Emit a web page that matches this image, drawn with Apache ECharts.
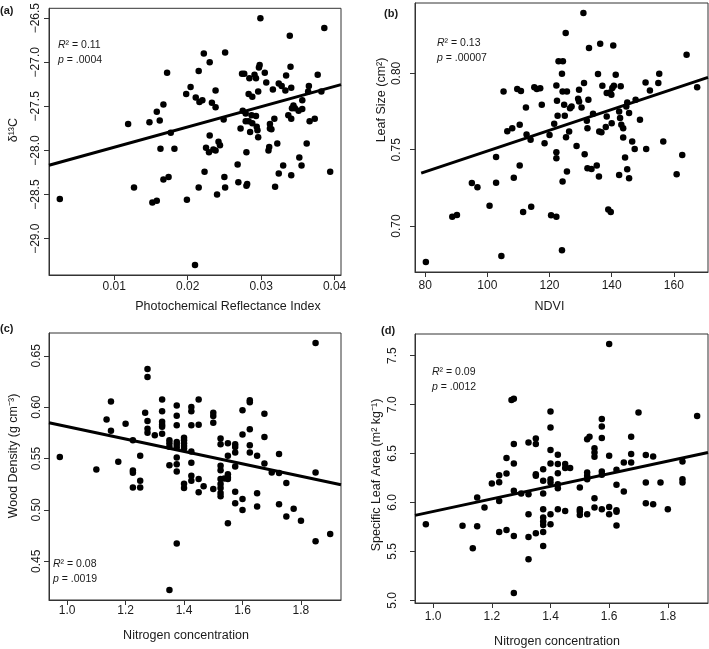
<!DOCTYPE html>
<html>
<head>
<meta charset="utf-8">
<script src="https://cdn.jsdelivr.net/npm/echarts@6/dist/echarts.min.js"></script>
<style>
html,body{margin:0;padding:0;background:#fff;}
#chart{width:709px;height:649px;}
</style>
</head>
<body>
<div id="chart"></div>
<script>
// ---------- Panel (a): PRI vs delta13C ----------
var praIndex = [0.0026,0.0119,0.0127,0.0148,0.0152,0.0158,0.0158,0.0162,0.0163,0.0167,
0.0167,0.0172,0.0174,0.0177,0.0182,0.0198,0.0199,0.0204,0.0211,0.0215,
0.0215,0.0216,0.0220,0.0222,0.0223,0.0225,0.0229,0.0230,0.0230,0.0233,
0.0235,0.0238,0.0238,0.0238,0.0240,0.0242,0.0244,0.0249,0.0250,0.0251,
0.0251,0.0268,0.0269,0.0272,0.0274,0.0275,0.0277,0.0279,0.0279,0.0280,
0.0280,0.0281,0.0283,0.0283,0.0284,0.0285,0.0287,0.0288,0.0288,0.0291,
0.0293,0.0293,0.0294,0.0295,0.0296,0.0296,0.0297,0.0298,0.0299,0.0305,
0.0307,0.0310,0.0311,0.0312,0.0312,0.0314,0.0316,0.0318,0.0319,0.0322,
0.0324,0.0324,0.0328,0.0330,0.0333,0.0334,0.0337,0.0339,0.0340,0.0341,
0.0341,0.0341,0.0342,0.0344,0.0346,0.0351,0.0352,0.0356,0.0356,0.0355,
0.0362,0.0365,0.0364,0.0366,0.0373,0.0377,0.0382,0.0386,0.0394,0.0210];
var d13C = [-28.55,-27.70,-28.42,-27.68,-28.59,-27.56,-28.57,-27.66,-27.98,-27.48,
-28.33,-27.12,-28.30,-27.80,-27.98,-27.36,-28.56,-27.28,-27.40,-27.10,
-28.42,-27.45,-27.43,-26.90,-28.24,-27.97,-28.02,-27.00,-27.83,-27.46,
-27.99,-27.32,-27.51,-28.00,-28.50,-27.90,-27.94,-27.65,-28.30,-28.42,
-26.89,-28.16,-28.36,-27.75,-27.13,-27.55,-27.13,-27.58,-27.67,-28.40,
-28.02,-28.38,-27.36,-27.67,-27.18,-27.79,-27.60,-27.39,-27.69,-27.14,
-27.18,-27.61,-27.73,-27.77,-27.33,-27.85,-27.06,-27.03,-26.50,-27.12,
-27.23,-28.00,-27.96,-27.75,-27.70,-27.76,-27.31,-27.64,-28.41,-27.92,
-28.26,-27.24,-27.27,-28.17,-27.32,-27.15,-27.60,-26.70,-27.05,-27.29,
-27.64,-28.28,-27.52,-27.49,-27.52,-27.55,-28.08,-27.53,-27.43,-28.17,
-27.92,-27.27,-27.33,-27.67,-27.64,-27.14,-27.33,-26.61,-28.24,-29.30];
var fitA = [-28.194, 23.0];          // intercept, slope
var xTicksA = [0.01, 0.02, 0.03, 0.04];
var yTicksA = [-29.0, -28.5, -28.0, -27.5, -27.0, -26.5];

// ---------- Panel (b): NDVI vs leaf size ----------
var ndvi = [80.2,88.7,90.2,95.0,96.8,100.7,102.8,102.8,104.5,105.2,
106.4,108.0,108.5,109.6,110.8,110.4,110.4,111.5,112.4,112.6,
113.9,114.1,115.1,115.9,117.0,117.5,118.4,120.0,120.5,122.2,
121.5,122.2,122.2,122.2,122.4,122.6,122.9,124.3,124.0,124.2,
124.0,124.2,125.6,124.7,124.9,125.2,125.3,125.6,126.6,127.1,
126.3,128.7,129.2,129.5,129.5,130.3,130.9,131.1,131.3,132.2,
132.0,132.2,133.5,132.7,132.5,134.0,135.2,135.6,135.9,136.0,
136.7,136.3,137.0,138.1,138.4,138.4,138.9,139.7,139.5,139.9,
140.2,140.0,140.5,140.7,141.3,142.4,142.7,142.4,142.9,143.1,
143.7,143.7,144.3,144.7,145.0,145.0,145.6,145.6,146.6,147.4,
147.7,149.1,150.9,151.1,152.3,155.0,155.3,156.6,160.9,162.7,
164.1,167.5];
var leafSize = [0.6764,0.7061,0.7072,0.7282,0.7254,0.7133,0.7453,0.7284,0.6803,0.7882,
0.7621,0.7641,0.7317,0.7897,0.7884,0.7663,0.7396,0.7092,0.7777,0.7600,
0.7565,0.7127,0.7910,0.7897,0.7902,0.7794,0.7543,0.7597,0.7070,0.7061,
0.7670,0.7921,0.7484,0.7444,0.7821,0.7722,0.8079,0.8079,0.7998,0.7291,
0.6842,0.7882,0.7882,0.7794,0.7722,0.8265,0.7582,0.7357,0.7772,0.7783,
0.7619,0.7525,0.7834,0.7893,0.7816,0.7777,0.8396,0.7937,0.7470,0.7641,
0.7689,0.7379,0.7374,0.8166,0.7827,0.7735,0.7396,0.7996,0.7324,0.7619,
0.7615,0.8195,0.7919,0.7648,0.7718,0.7871,0.7109,0.7092,0.7875,0.7860,
0.7904,0.7674,0.8182,0.7919,0.7991,0.7751,0.7707,0.7335,0.7915,0.7663,
0.7641,0.7580,0.7449,0.7783,0.7810,0.7372,0.7740,0.7313,0.7554,0.7505,
0.7827,0.7696,0.7941,0.7505,0.7888,0.7937,0.7998,0.7554,0.7339,0.7466,
0.8123,0.7910];
var fitB = [0.6811, 0.000680];
var fitStartB = 78.7;
var xTicksB = [80, 100, 120, 140, 160];
var yTicksB = [0.70, 0.75, 0.80];

// ---------- Panel (c): nitrogen vs wood density ----------
var nitrogenC = [0.975,1.100,1.135,1.150,1.150,1.175,1.200,1.225,1.225,1.225,
1.225,1.250,1.250,1.250,1.267,1.275,1.275,1.275,1.275,1.275,
1.300,1.325,1.325,1.325,1.325,1.325,1.325,1.350,1.350,1.350,
1.350,1.350,1.375,1.375,1.375,1.375,1.375,1.375,1.375,1.375,
1.375,1.375,1.400,1.400,1.400,1.400,1.400,1.400,1.400,1.425,
1.425,1.425,1.425,1.425,1.425,1.425,1.450,1.450,1.450,1.450,
1.467,1.500,1.500,1.500,1.500,1.525,1.525,1.525,1.525,1.525,
1.525,1.525,1.525,1.525,1.538,1.550,1.550,1.550,1.550,1.550,
1.550,1.575,1.575,1.575,1.575,1.575,1.575,1.600,1.600,1.600,
1.600,1.625,1.625,1.625,1.625,1.625,1.650,1.650,1.650,1.675,
1.675,1.675,1.700,1.725,1.725,1.725,1.750,1.750,1.775,1.800,
1.850,1.850,1.850,1.900];
var woodDensity = [0.5516,0.5394,0.5881,0.6055,0.5771,0.5468,0.5839,0.5677,0.5384,0.5361,
0.5219,0.5526,0.5284,0.5219,0.5945,0.6371,0.6294,0.5865,0.5790,0.5752,
0.5726,0.6074,0.5961,0.5858,0.5829,0.5810,0.5742,0.5677,0.5648,0.5616,
0.5435,0.4219,0.6016,0.5916,0.5823,0.5661,0.5635,0.5606,0.5510,0.5445,
0.5374,0.4674,0.5703,0.5677,0.5648,0.5623,0.5597,0.5255,0.5213,0.6003,
0.5961,0.5823,0.5568,0.5458,0.5332,0.5284,0.6074,0.5829,0.5300,0.5171,
0.5229,0.5945,0.5913,0.5848,0.5203,0.5694,0.5639,0.5429,0.5387,0.5300,
0.5252,0.5213,0.5165,0.5132,0.5306,0.5648,0.5526,0.5348,0.5316,0.5300,
0.4871,0.5639,0.5613,0.5558,0.5423,0.5177,0.5065,0.5735,0.5971,0.5106,
0.5000,0.6068,0.6048,0.5784,0.5629,0.5558,0.5526,0.5161,0.5032,0.5935,
0.5710,0.5452,0.5365,0.5545,0.5358,0.5055,0.5261,0.4935,0.5010,0.4894,
0.6626,0.5365,0.4694,0.4765];
var fitC = [0.6417, -0.06054];
var xTicksC = [1.0, 1.2, 1.4, 1.6, 1.8];
var yTicksC = [0.45, 0.50, 0.55, 0.60, 0.65];

// ---------- Panel (d): nitrogen vs specific leaf area ----------
var nitrogenD = [0.975,1.100,1.135,1.150,1.150,1.175,1.200,1.225,1.225,1.225,
1.225,1.250,1.250,1.250,1.267,1.275,1.275,1.275,1.275,1.275,
1.275,1.300,1.325,1.325,1.325,1.325,1.325,1.350,1.350,1.350,
1.350,1.350,1.375,1.375,1.375,1.375,1.375,1.375,1.375,1.375,
1.375,1.400,1.400,1.400,1.400,1.400,1.400,1.400,1.400,1.425,
1.425,1.425,1.425,1.425,1.425,1.450,1.450,1.450,1.467,1.500,
1.500,1.500,1.500,1.525,1.525,1.525,1.525,1.525,1.533,1.550,
1.550,1.550,1.550,1.550,1.575,1.575,1.575,1.575,1.575,1.575,
1.600,1.600,1.600,1.600,1.625,1.625,1.625,1.625,1.625,1.650,
1.650,1.675,1.675,1.675,1.700,1.725,1.725,1.725,1.750,1.750,
1.775,1.800,1.850,1.850,1.850,1.900];
var sla = [5.778,5.761,5.532,6.050,5.757,5.948,6.194,6.279,6.207,6.016,
5.699,6.453,6.296,5.720,7.046,7.060,6.596,6.398,6.119,5.658,
5.075,6.091,6.613,6.085,5.880,5.648,5.419,6.654,6.596,6.289,
6.272,5.686,6.340,6.221,6.091,5.931,5.846,5.805,5.771,5.699,
5.556,6.930,6.767,6.535,6.398,6.238,6.204,5.880,5.778,6.487,
6.392,6.299,6.187,6.146,5.931,6.392,6.351,5.914,6.351,6.153,
5.931,5.907,5.873,6.647,6.306,6.272,6.238,5.880,6.671,6.555,
6.511,6.467,6.044,5.948,6.852,6.777,6.658,6.316,6.282,5.931,
7.619,6.477,5.955,5.880,6.334,6.180,5.921,5.904,5.764,6.409,
6.112,6.671,6.494,6.409,6.920,6.484,6.204,5.992,6.470,5.982,
6.204,5.931,6.419,6.238,6.204,6.883];
var fitD = [5.2653, 0.6431];
var xTicksD = [1.0, 1.2, 1.4, 1.6, 1.8];
var yTicksD = [5.0, 5.5, 6.0, 6.5, 7.0, 7.5];

// ---------- helpers ----------
function zip(xs, ys) { return xs.map(function (x, i) { return [x, ys[i]]; }); }
function ext(v) { // R style: data range padded by 4%
  var mn = Math.min.apply(null, v), mx = Math.max.apply(null, v), p = (mx - mn) * 0.04;
  return [mn - p, mx + p];
}
function fmt(dec) { return function (v) { return v.toFixed(dec).replace('-', '\u2212'); }; }

var FONT = "'Liberation Sans', Arial, Helvetica, sans-serif";
var INK = '#1a1a1a';

var panels = [
  { x: praIndex, y: d13C, fit: fitA, fitStart: null, xt: xTicksA, yt: yTicksA, xd: 2, yd: 1,
    grid: { left: 49, top: 2, width: 292, height: 273 },
    xName: 'Photochemical Reflectance Index', yName: '\u03b4\u00b9\u00b3C',
    xGap: 25, yGap: 29, xPad: [0, 0, 0, 66], yPad: [0, 0, 0, 23], xMargin: 6, yMargin: 7 },
  { x: ndvi, y: leafSize, fit: fitB, fitStart: fitStartB, xt: xTicksB, yt: yTicksB, xd: 0, yd: 2,
    grid: { left: 415, top: 3, width: 293, height: 269 },
    xName: 'NDVI', yName: 'Leaf Size (cm\u00b2)',
    xGap: 28, yGap: 27, xPad: [0, 24, 0, 0], yPad: [0, 0, 0, 75], xMargin: 8, yMargin: 12 },
  { x: nitrogenC, y: woodDensity, fit: fitC, fitStart: null, xt: xTicksC, yt: yTicksC, xd: 1, yd: 2,
    grid: { left: 49, top: 333, width: 292, height: 267 },
    xName: 'Nitrogen concentration', yName: 'Wood Density (g cm\u207b\u00b3)',
    xGap: 29, yGap: 29, xPad: [0, 18, 0, 0], yPad: [0, 0, 0, 21], xMargin: 5, yMargin: 6 },
  { x: nitrogenD, y: sla, fit: fitD, fitStart: null, xt: xTicksD, yt: yTicksD, xd: 1, yd: 1,
    grid: { left: 415, top: 334, width: 293, height: 271 },
    xName: 'Nitrogen concentration', yName: 'Specific Leaf Area (m\u00b2 kg\u207b\u00b9)',
    xGap: 32, yGap: 32, xPad: [0, 9, 0, 0], yPad: [0, 13, 0, 0], xMargin: 8, yMargin: 16 }
];

var grids = [], xAxes = [], yAxes = [], series = [];
panels.forEach(function (p, i) {
  var xe = ext(p.x), ye = ext(p.y);
  grids.push(Object.assign({ show: true, borderColor: '#333', borderWidth: 1, backgroundColor: '#fff' }, p.grid));
  xAxes.push({
    type: 'value', gridIndex: i, min: xe[0], max: xe[1],
    name: p.xName, nameLocation: 'middle', nameGap: p.xGap,
    nameTextStyle: { fontFamily: FONT, fontSize: 12.5, color: INK, padding: p.xPad },
    axisLine: { show: true, lineStyle: { color: '#333' } },
    axisTick: { show: true, inside: false, length: 5, customValues: p.xt, lineStyle: { color: '#333' } },
    axisLabel: { customValues: p.xt, formatter: fmt(p.xd), margin: p.xMargin, fontFamily: FONT, fontSize: 12, color: INK },
    splitLine: { show: false }
  });
  yAxes.push({
    type: 'value', gridIndex: i, min: ye[0], max: ye[1],
    name: p.yName, nameLocation: 'middle', nameGap: p.yGap,
    nameTextStyle: { fontFamily: FONT, fontSize: 12.5, color: INK, padding: p.yPad },
    axisLine: { show: true, lineStyle: { color: '#333' } },
    axisTick: { show: true, inside: false, length: 5, customValues: p.yt, lineStyle: { color: '#333' } },
    axisLabel: { customValues: p.yt, formatter: fmt(p.yd), rotate: 90, margin: p.yMargin, fontFamily: FONT, fontSize: 12, color: INK },
    splitLine: { show: false }
  });
  series.push({
    type: 'scatter', xAxisIndex: i, yAxisIndex: i, data: zip(p.x, p.y),
    symbol: 'circle', symbolSize: 6.5, itemStyle: { color: '#000', opacity: 1 },
    silent: true, z: 3
  });
  var x0 = p.fitStart != null ? p.fitStart : xe[0], x1 = xe[1];
  series.push({
    type: 'line', xAxisIndex: i, yAxisIndex: i,
    data: [[x0, p.fit[0] + p.fit[1] * x0], [x1, p.fit[0] + p.fit[1] * x1]],
    showSymbol: false, symbol: 'none', silent: true, z: 4,
    lineStyle: { color: '#000', width: 3 }
  });
});

function statText(x, y, r2, pv) {
  return {
    type: 'text', left: x, top: y, silent: true,
    style: {
      text: '{i|R}\u00b2 = ' + r2 + '\n{i|p} = ' + pv,
      fontFamily: FONT, fontSize: 10.5, fill: INK, lineHeight: 15,
      rich: { i: { fontStyle: 'italic', fontFamily: FONT, fontSize: 10.5, fill: INK } }
    }
  };
}
function panelLabel(x, y, t) {
  return { type: 'text', left: x, top: y, silent: true,
    style: { text: t, fontFamily: FONT, fontSize: 11, fontWeight: 'bold', fill: INK } };
}

var chart = echarts.init(document.getElementById('chart'), null, { renderer: 'canvas' });
chart.setOption({
  backgroundColor: '#fff',
  animation: false,
  grid: grids, xAxis: xAxes, yAxis: yAxes, series: series,
  graphic: [
    panelLabel(0, 5, '(a)'), panelLabel(384, 8, '(b)'), panelLabel(0, 323, '(c)'), panelLabel(381, 325, '(d)'),
    statText(58, 38, '0.11', '.0004'),
    statText(437, 36, '0.13', '.00007'),
    statText(53, 557, '0.08', '.0019'),
    statText(432, 365, '0.09', '.0012')
  ]
});
</script>
</body>
</html>
